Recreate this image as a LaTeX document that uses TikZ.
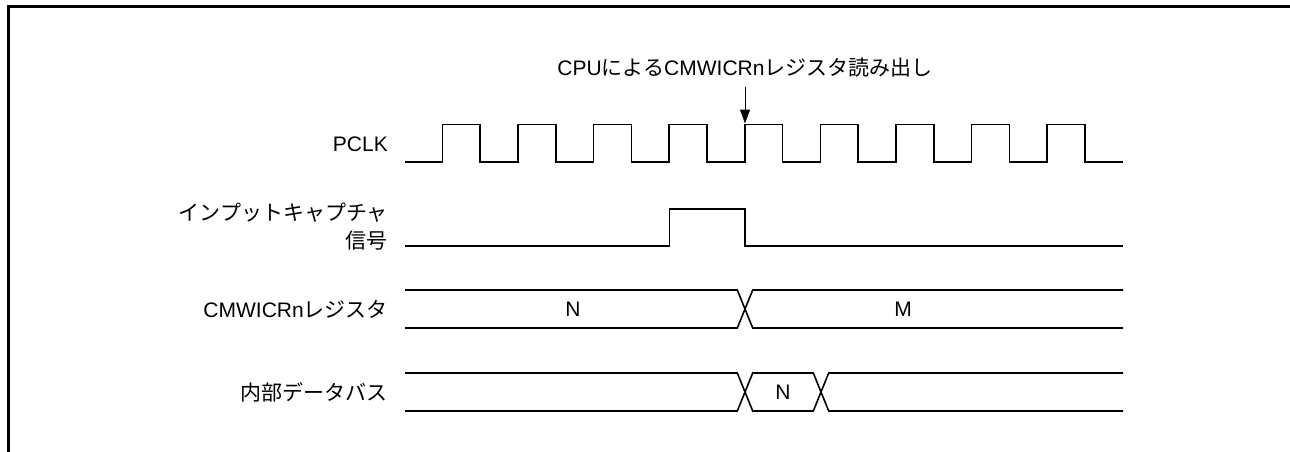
\documentclass[tikz,border=0pt]{standalone}
\usepackage{fontspec}
\setmainfont{Liberation Sans}
\newfontfamily\jp{Noto Sans CJK JP}
\usetikzlibrary{arrows.meta}
\begin{document}
\begin{tikzpicture}[x=1pt,y=-1pt,
  sig/.style={line width=1.6pt, line join=miter},
  lbl/.style={font=\fontsize{21}{25}\selectfont, inner sep=0pt, anchor=base east},
  val/.style={font=\fontsize{21}{25}\selectfont, inner sep=0pt},
  frameline/.style={line width=3.2pt}]
\useasboundingbox (0,0) rectangle (1290,452);
% frame
\draw[frameline] (6.7,6.7) -- (1290,6.7);
\draw[frameline] (8.3,5) -- (8.3,452);

% labels
\node[lbl] (lpclk) at (388,151) {PCLK};
\node[lbl] (lic1) at (388,220) {\jp インプットキャプチャ};
\node[lbl] (lic2) at (388,248) {\jp 信号};
\node[lbl] (lreg) at (388,317) {CMWICRn{\jp レジスタ}};
\node[lbl] (lbus) at (388,400) {\jp 内部データバス};

% CPU read annotation
\node[val, anchor=base] (cpu) at (745,76) {CPU{\jp による}CMWICRn{\jp レジスタ読み出し}};
\coordinate (astart) at (745,87);
\coordinate (aend) at (745,123.5);
\draw[line width=1pt, -{Triangle[length=14pt,width=10pt]}] (astart) -- (aend);

% PCLK
\draw[sig] (405,162)
  \foreach \k in {0,...,8} {
    -- ({442.3+75.6*\k},162) -- ({442.3+75.6*\k},124.3)
    -- ({480.1+75.6*\k},124.3) -- ({480.1+75.6*\k},162)
  } -- (1123,162);

% input capture
\draw[sig] (405,246) -- (669.3,246) -- (669.3,209) -- (745,209) -- (745,246) -- (1123,246);

% CMWICRn register
\draw[sig] (405,290) -- (737.3,290) -- (752.7,328) -- (1123,328);
\draw[sig] (405,328) -- (737.3,328) -- (752.7,290) -- (1123,290);
\node[val] (regN) at (573,309.5) {N};
\node[val] (regM) at (903,309.5) {M};

% internal data bus
\draw[sig] (405,373) -- (737.3,373) -- (752.7,411) -- (813.3,411) -- (828.7,373) -- (1123,373);
\draw[sig] (405,411) -- (737.3,411) -- (752.7,373) -- (813.3,373) -- (828.7,411) -- (1123,411);
\node[val] (busN) at (783,392) {N};
\end{tikzpicture}
\end{document}
